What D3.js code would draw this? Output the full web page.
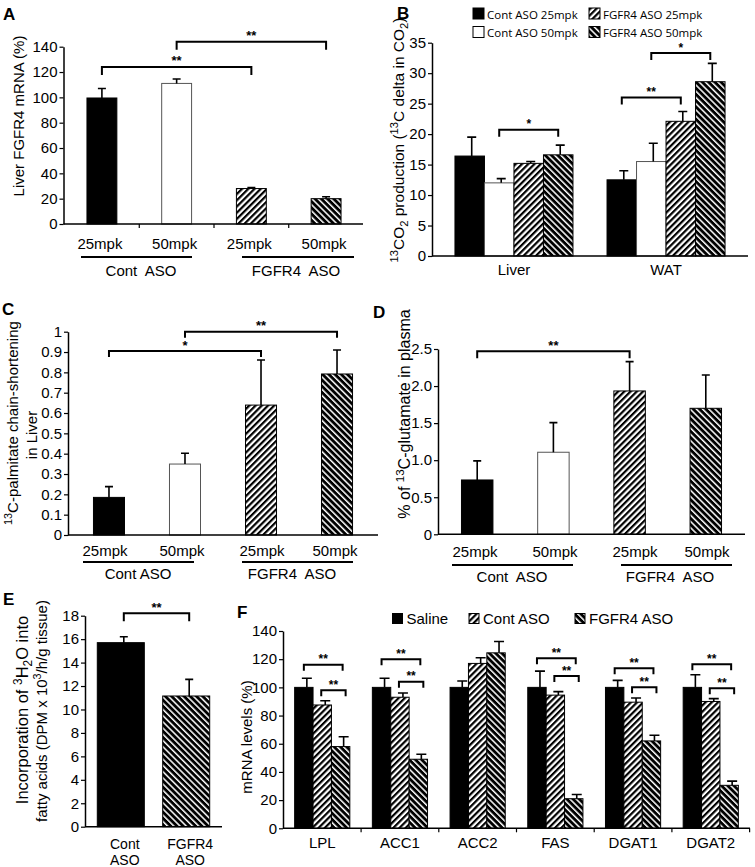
<!DOCTYPE html>
<html><head><meta charset="utf-8">
<script src="https://cdn.jsdelivr.net/npm/d3@7"></script>
<style>
body{margin:0;background:#fff;}
svg text{font-family:"Liberation Sans",Arial,Helvetica,sans-serif;fill:#000;}
</style></head><body>
<svg id="fig" width="755" height="867"></svg>
<script>
// ---------------- DATA ----------------
const doseLabels = ["25mpk","50mpk","25mpk","50mpk"];
const groupLabels = ["Cont  ASO","FGFR4  ASO"];
const groupLabelsC = ["Cont ASO","FGFR4  ASO"];
const doseFills = ["black","white","fwd","back"];

// Panel A
const aValues = [99.5, 111, 28, 20];
const aErrors = [7.5, 3.5, 0.8, 1.5];
const aTicks = [0,20,40,60,80,100,120,140];
const aBrackets = [[0,2,124,"**"],[1,3,144,"**"]];

// Panel B
const bTissues = ["Liver","WAT"];
const bSeries = ["Cont ASO 25mpk","Cont ASO 50mpk","FGFR4 ASO 25mpk","FGFR4 ASO 50mpk"];
const bLiver = [16.4, 12.0, 15.2, 16.6];
const bLiverErr = [3.1, 0.7, 0.3, 1.6];
const bWAT = [12.5, 15.5, 22.1, 28.6];
const bWATErr = [1.5, 3.0, 1.6, 3.0];
const bTicks = [0,5,10,15,20,25,30,35];
const bBrackets = [["Liver",1,3,20.7,"*"],["WAT",0,2,26.0,"**"],["WAT",1,3,33.3,"*"]];

// Panel C
const cValues = [0.185, 0.349, 0.639, 0.792];
const cErrors = [0.053, 0.053, 0.222, 0.118];
const cTicks = [0,0.1,0.2,0.3,0.4,0.5,0.6,0.7,0.8,0.9,1];
const cBrackets = [[0,2,0.905,"*"],[1,3,1.0,"**"]];

// Panel D
const dValues = [0.733, 1.107, 1.934, 1.70];
const dErrors = [0.257, 0.40, 0.396, 0.45];
const dTicks = [0,0.5,1.0,1.5,2.0,2.5];
const dBrackets = [[0,2,2.47,"**"]];

// Panel E
const eCats = ["Cont ASO","FGFR4 ASO"];
const eValues = [15.7, 11.15];
const eErrors = [0.5, 1.42];
const eTicks = [0,2,4,6,8,10,12,14,16,18];
const eBrackets = [[0,1,18.2,"**"]];

// Panel F
const fGenes = ["LPL","ACC1","ACC2","FAS","DGAT1","DGAT2"];
const fSeries = ["Saline","Cont ASO","FGFR4 ASO"];
const fSaline = [100, 100, 100, 100, 100, 100];
const fSalineErr = [6.5, 6.5, 4.5, 11.5, 5, 9];
const fCont = [87.5, 93, 117, 94.5, 89.5, 90];
const fContErr = [3, 3, 4, 2.5, 3, 2];
const fFGFR4 = [58, 49, 124.5, 21, 62, 30.5];
const fFGFR4Err = [7, 3.5, 8, 3, 4, 3];
const fTicks = [0,20,40,60,80,100,120,140];
const fBrackets = [
  ["LPL",0,2,116,"**"],["LPL",1,2,98,"**"],
  ["ACC1",0,2,120,"**"],["ACC1",1,2,104,"**"],
  ["FAS",0,2,120.6,"**"],["FAS",1,2,108,"**"],
  ["DGAT1",0,2,113.5,"**"],["DGAT1",1,2,100,"**"],
  ["DGAT2",0,2,116.4,"**"],["DGAT2",1,2,99.3,"**"]
];

// ---------------- DRAWING ----------------
const svg = d3.select("#fig");
const defs = svg.append("defs");
function stripe(id, bg, fg, angle, size, w){
  const p = defs.append("pattern").attr("id",id).attr("patternUnits","userSpaceOnUse")
    .attr("width",size).attr("height",size).attr("patternTransform",`rotate(${angle})`);
  p.append("rect").attr("width",size).attr("height",size).attr("fill",bg);
  p.append("rect").attr("width",w).attr("height",size).attr("fill",fg);
}
stripe("fwd","#fff","#000",45,4.4,2.2);
stripe("back","#000","#fff",-45,4.4,1.5);
const fills = {black:"#000", white:"#fff", fwd:"url(#fwd)", back:"url(#back)"};
const FONT = '"Liberation Sans",Arial,sans-serif';

function yAxis(x0, y, ticks, fmt, fs){
  const ax = svg.append("g").attr("transform",`translate(${x0},0)`)
    .call(d3.axisLeft(y).tickValues(ticks).tickSize(4).tickSizeOuter(0).tickPadding(2).tickFormat(fmt));
  ax.attr("font-family",FONT).attr("font-size",fs);
  ax.select(".domain").attr("stroke","#000").attr("stroke-width",1.5);
  ax.selectAll(".tick line").attr("stroke","#000").attr("stroke-width",1.2);
  ax.selectAll(".tick text").attr("fill","#000");
  return ax;
}
function xLine(x0,x1,yy){
  svg.append("line").attr("x1",x0).attr("x2",x1).attr("y1",yy).attr("y2",yy)
    .attr("stroke","#000").attr("stroke-width",1.5);
}
function bar(x,w,y0,y1,fill){
  svg.append("rect").attr("x",x).attr("y",y1).attr("width",w).attr("height",y0-y1)
    .attr("fill",fills[fill]).attr("stroke",fill==="white"?"#555":"#000").attr("stroke-width",1);
}
function errBar(cx, ytop, yerr, cap){
  svg.append("path").attr("d",`M${cx},${ytop}V${yerr}M${cx-cap/2},${yerr}H${cx+cap/2}`)
    .attr("stroke","#000").attr("stroke-width",1.6).attr("fill","none");
}
function bracket(x1,x2,yy,tick,label,fs){
  svg.append("path").attr("d",`M${x1},${yy+tick}V${yy}H${x2}V${yy+tick}`)
    .attr("stroke","#000").attr("stroke-width",2).attr("fill","none");
  svg.append("text").attr("x",(x1+x2)/2).attr("y",yy-1.5).attr("text-anchor","middle")
    .attr("font-size",fs).attr("font-weight","bold").text(label);
}
function txt(x,y,s,fs,anchor="middle",extra={}){
  const t = svg.append("text").attr("x",x).attr("y",y).attr("text-anchor",anchor).attr("font-size",fs).text(s);
  Object.entries(extra).forEach(([k,v])=>t.attr(k,v));
  return t;
}
function rich(x,y,rot,segs,fs){
  const t = svg.append("text").attr("transform",`translate(${x},${y}) rotate(${rot})`)
    .attr("text-anchor","middle").attr("font-size",fs);
  let shift = 0;
  segs.forEach(s=>{
    const sp = t.append("tspan").text(s[0]);
    const target = s[1]==="sup" ? -0.38*fs : s[1]==="sub" ? 0.25*fs : 0;
    sp.attr("dy", target-shift); shift = target;
    if(s[1]) sp.attr("font-size", fs*0.72);
  });
  return t;
}
function panelLetter(x,y,s){ txt(x,y,s,17,"start",{"font-weight":"bold"}); }

function dosePanel(o){
  const x = d3.scaleBand().domain(d3.range(o.values.length)).range(o.xr).paddingInner(o.pi).paddingOuter(o.po);
  const y = d3.scaleLinear().domain(o.yd).range(o.yr);
  o.values.forEach((v,i)=>{
    bar(x(i), x.bandwidth(), y(0), y(v), o.fillsKey[i]);
    errBar(x(i)+x.bandwidth()/2, y(v), y(v+o.errors[i]), o.cap);
  });
  yAxis(o.xr[0], y, o.ticks, o.fmt, 15);
  xLine(o.xr[0], o.xaxEnd, y(0));
  o.brackets.forEach(b=>{
    const c = i => x(i)+x.bandwidth()/2;
    bracket(c(b[0]), c(b[1]), y(b[2]), o.btick, b[3], 13);
  });
  return {x,y};
}

// ---------- Panel A ----------
panelLetter(3,20,"A");
{
  const {x,y} = dosePanel({values:aValues, errors:aErrors, fillsKey:doseFills, xr:[63.5,364.5], pi:0.6, po:0.314,
    yd:[0,140], yr:[224,46.7], ticks:aTicks, fmt:d3.format("d"), xaxEnd:363, brackets:aBrackets, btick:8, cap:8});
  [0,1,2].forEach(i=>{
    const xm = (x(i)+x.bandwidth()+x(i+1))/2;
    svg.append("line").attr("x1",xm).attr("x2",xm).attr("y1",y(0)).attr("y2",y(0)+4).attr("stroke","#000").attr("stroke-width",1.2);
  });
  doseLabels.forEach((l,i)=>txt(x(i)+x.bandwidth()/2-2, 249, l, 15));
  svg.append("line").attr("x1",81).attr("x2",192).attr("y1",257).attr("y2",257).attr("stroke","#000").attr("stroke-width",2);
  svg.append("line").attr("x1",242).attr("x2",354).attr("y1",257).attr("y2",257).attr("stroke","#000").attr("stroke-width",2);
  txt(141,276,groupLabels[0],15,"middle",{"xml:space":"preserve"});
  txt(296,276,groupLabels[1],15,"middle",{"xml:space":"preserve"});
  rich(23.5,116,-90,[["Liver FGFR4 mRNA (%)"]],15);
}

// ---------- Panel B ----------
panelLetter(397,19,"B");
{
  const x0 = d3.scaleBand().domain(bTissues).range([432,748]).paddingInner(0.224).paddingOuter(0.151);
  const x1 = d3.scaleBand().domain(d3.range(bSeries.length)).range([0,x0.bandwidth()]);
  const y = d3.scaleLinear().domain([0,35]).range([256,42.7]);
  const data = {Liver:[bLiver,bLiverErr], WAT:[bWAT,bWATErr]};
  bTissues.forEach(t=>{
    data[t][0].forEach((v,i)=>{
      bar(x0(t)+x1(i), x1.bandwidth(), y(0), y(v), doseFills[i]);
      errBar(x0(t)+x1(i)+x1.bandwidth()/2+2, y(v), y(v+data[t][1][i]), 9);
    });
    txt(x0(t)+x0.bandwidth()/2, 275, t, 15);
  });
  yAxis(432, y, bTicks, d3.format("d"), 15);
  xLine(432, 748, y(0));
  bBrackets.forEach(b=>{
    const c = i => x0(b[0])+x1(i)+x1.bandwidth()/2;
    bracket(c(b[1]), c(b[2]), y(b[3]), 7, b[4], 12);
  });
  const lx = [473,589], ly = [8,26.5];
  bSeries.forEach((s,i)=>{
    const col = Math.floor(i/2), row = i%2;
    svg.append("rect").attr("x",lx[col]).attr("y",ly[row]).attr("width",11).attr("height",11)
      .attr("fill",fills[doseFills[i]]).attr("stroke","#000").attr("stroke-width",1);
    txt(lx[col]+14, ly[row]+10.5, s, 11.5, "start", {"style":'font-family:"Open Sans",sans-serif'});
  });
  rich(404,140,-90,[["13","sup"],["CO"],["2","sub"],[" production ("],["13","sup"],["C delta in CO"],["2","sub"],[")"]],15.5);
}

// ---------- Panel C ----------
panelLetter(2,315,"C");
{
  const {x,y} = dosePanel({values:cValues, errors:cErrors, fillsKey:doseFills, xr:[68,378], pi:0.592, po:0.335,
    yd:[0,1], yr:[535,331.7], ticks:cTicks, fmt:d=>(d===0||d===1)?String(d):d.toFixed(1), xaxEnd:378, brackets:cBrackets, btick:6, cap:8});
  const lx = [105,182,262,335];
  doseLabels.forEach((l,i)=>txt(lx[i], 556, l, 15));
  svg.append("line").attr("x1",83).attr("x2",194).attr("y1",562).attr("y2",562).attr("stroke","#000").attr("stroke-width",2);
  svg.append("line").attr("x1",242).attr("x2",353).attr("y1",562).attr("y2",562).attr("stroke","#000").attr("stroke-width",2);
  txt(138,579,groupLabelsC[0],15,"middle",{"xml:space":"preserve"});
  txt(292,579,groupLabelsC[1],15,"middle",{"xml:space":"preserve"});
  rich(18,423,-90,[["13","sup"],["C-palmitate chain-shortening"]],15);
  rich(37,435,-90,[["in Liver"]],15);
}

// ---------- Panel D ----------
panelLetter(373,318,"D");
{
  const {x,y} = dosePanel({values:dValues, errors:dErrors, fillsKey:doseFills, xr:[438,745], pi:0.587, po:0.308,
    yd:[0,2.5], yr:[534.3,349], ticks:dTicks, fmt:d=>d===0?"0":d.toFixed(1), xaxEnd:745, brackets:dBrackets, btick:7, cap:8});
  const lx = [475,555,635,707];
  doseLabels.forEach((l,i)=>txt(lx[i], 557, l, 15));
  svg.append("line").attr("x1",452).attr("x2",573).attr("y1",565).attr("y2",565).attr("stroke","#000").attr("stroke-width",2);
  svg.append("line").attr("x1",621).attr("x2",732).attr("y1",565).attr("y2",565).attr("stroke","#000").attr("stroke-width",2);
  txt(512,582,groupLabels[0],15,"middle",{"xml:space":"preserve"});
  txt(670,582,groupLabels[1],15,"middle",{"xml:space":"preserve"});
  rich(410,414,-90,[["% of "],["13","sup"],["C-glutamate in plasma"]],16);
}

// ---------- Panel E ----------
panelLetter(3,605,"E");
{
  const x = d3.scaleBand().domain(eCats).range([85,222]).paddingInner(0.281).paddingOuter(0.188);
  const y = d3.scaleLinear().domain([0,18]).range([826.7,615.7]);
  const ef = ["black","back"];
  eCats.forEach((c,i)=>{
    bar(x(c), x.bandwidth(), y(0), y(eValues[i]), ef[i]);
    errBar(x(c)+x.bandwidth()/2+3, y(eValues[i]), y(eValues[i]+eErrors[i]), 8);
    const words = c.split(" ");
    txt(x(c)+x.bandwidth()/2+4, 849, words[0], 14);
    txt(x(c)+x.bandwidth()/2+4, 865, words[1], 14);
  });
  yAxis(85, y, eTicks, d3.format("d"), 15);
  xLine(85, 222, y(0));
  eBrackets.forEach(b=>{
    const c = i => x(eCats[i])+x.bandwidth()/2+3;
    bracket(c(b[0]), c(b[1]), y(b[2]), 8, b[3], 13);
  });
  rich(28,710,-90,[["Incorporation of "],["3","sup"],["H"],["2","sub"],["O into"]],16.5);
  rich(47,711,-90,[["fatty acids (DPM x 10"],["3","sup"],["/h/g tissue)"]],15);
}

// ---------- Panel F ----------
panelLetter(237,618,"F");
{
  const x0 = d3.scaleBand().domain(fGenes).range([283,750]).paddingInner(0.29).paddingOuter(0.15);
  const x1 = d3.scaleBand().domain(fSeries).range([0,x0.bandwidth()]);
  const y = d3.scaleLinear().domain([0,140]).range([828.3,631]);
  const vals = [fSaline,fCont,fFGFR4], errs = [fSalineErr,fContErr,fFGFR4Err];
  const ff = ["black","fwd","back"];
  fGenes.forEach((g,gi)=>{
    fSeries.forEach((s,si)=>{
      const v = vals[si][gi];
      bar(x0(g)+x1(s), x1.bandwidth(), y(0), y(v), ff[si]);
      errBar(x0(g)+x1(s)+x1.bandwidth()/2+3, y(v), y(v+errs[si][gi]), 10);
    });
    txt(x0(g)+x0.bandwidth()/2, 848, g, 15);
  });
  yAxis(283, y, fTicks, d3.format("d"), 15);
  xLine(283, 750, y(0));
  const step = x0.step();
  fGenes.forEach((g,gi)=>{
    const xm = x0(g)+x0.bandwidth()+ (step-x0.bandwidth())/2;
    svg.append("line").attr("x1",xm).attr("x2",xm).attr("y1",y(0)).attr("y2",y(0)+4).attr("stroke","#000").attr("stroke-width",1.2);
  });
  fBrackets.forEach(b=>{
    const c = i => x0(b[0])+x1(fSeries[i])+x1.bandwidth()/2;
    const x1p = c(b[1]) + (b[1]===0?0:-1);
    const x2p = c(b[2]) + (b[1]===0?2:5);
    bracket(x1p, x2p, y(b[3]), 6, b[4], 12);
  });
  const lx = [392.5,469,575];
  fSeries.forEach((s,i)=>{
    svg.append("rect").attr("x",lx[i]).attr("y",613.5).attr("width",10).attr("height",10)
      .attr("fill",fills[ff[i]]).attr("stroke","#000").attr("stroke-width",1);
    txt(lx[i]+14, 624, s, 15, "start");
  });
  rich(252,737,-90,[["mRNA levels (%)"]],15);
}
</script>
</body></html>
